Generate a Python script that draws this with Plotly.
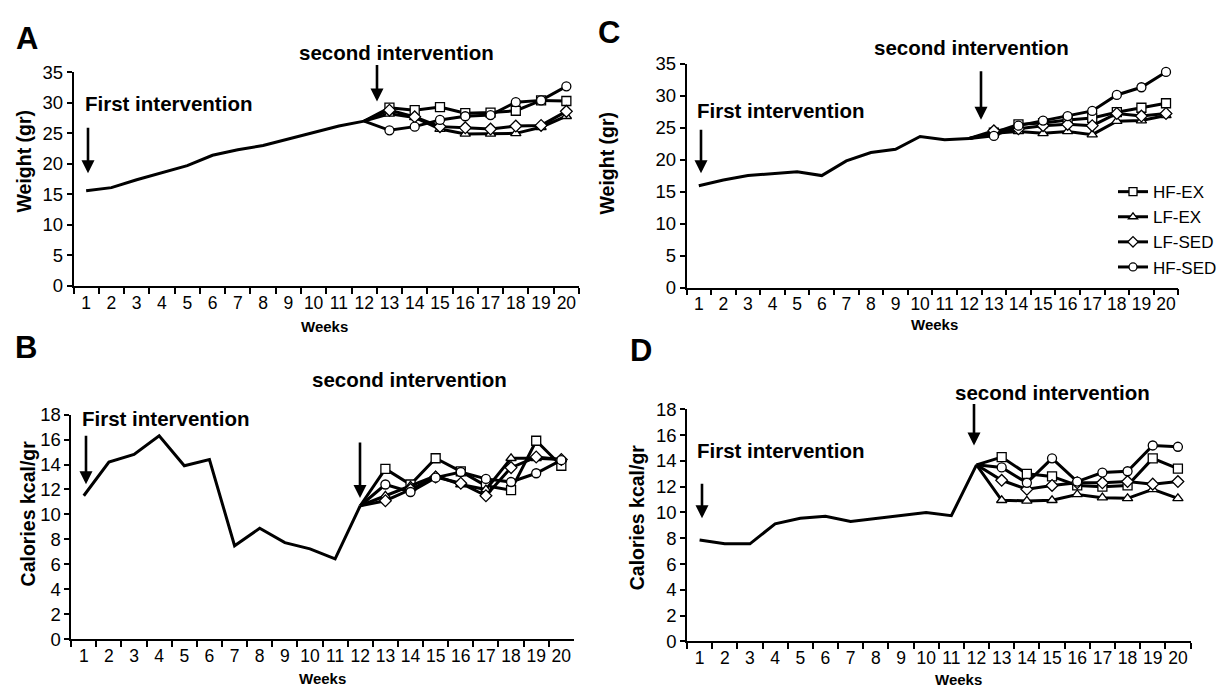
import plotly.graph_objects as go

# window is 1225x695; the page body has an 8px margin, so the figure starts at (8, 8)
WIN_W, WIN_H = 1225, 695
OFF = 8
W, H = WIN_W - OFF, WIN_H - OFF

weeks = [str(i) for i in range(1, 21)]
groups = ["HF-EX", "LF-EX", "LF-SED", "HF-SED"]
symbols = ["square", "triangle-up", "diamond", "circle"]

# Panel A: weight (gr)
a_base = [15.6, 16.1, 17.4, 18.5, 19.7, 21.4, 22.3, 23.0, 24.1, 25.1, 26.2, 27.0]
a_hf_ex = [29.2, 28.8, 29.3, 28.3, 28.4, 28.7, 30.4, 30.3]
a_lf_ex = [28.2, 27.6, 25.7, 24.9, 24.9, 25.0, 26.0, 27.8]
a_lf_sed = [28.8, 27.7, 26.1, 25.9, 25.7, 26.2, 26.3, 28.6]
a_hf_sed = [25.5, 26.1, 27.2, 27.8, 28.0, 30.1, 30.4, 32.7]

# Panel B: calories kcal/gr
b_base = [11.5, 14.2, 14.8, 16.3, 13.9, 14.4, 7.5, 8.9, 7.75, 7.25, 6.45, 10.7]
b_hf_ex = [13.65, 12.4, 14.5, 13.45, 12.3, 11.95, 15.9, 13.9]
b_lf_ex = [11.5, 12.3, 13.1, 12.4, 12.0, 14.5, 14.5, 14.4]
b_lf_sed = [11.1, 12.0, 13.0, 12.5, 11.5, 13.75, 14.6, 14.4]
b_hf_sed = [12.4, 11.8, 12.95, 13.4, 12.85, 12.6, 13.3, 14.35]

# Panel C: weight (gr)
c_base = [15.9, 16.8, 17.5, 17.8, 18.1, 17.5, 19.8, 21.1, 21.6, 23.6, 23.1, 23.3]
c_hf_ex = [24.2, 25.5, 25.7, 26.2, 26.5, 27.4, 28.1, 28.8]
c_lf_ex = [24.1, 24.4, 24.1, 24.4, 23.9, 26.0, 26.1, 26.9]
c_lf_sed = [24.5, 24.8, 25.3, 25.5, 25.3, 27.2, 26.8, 27.2]
c_hf_sed = [23.7, 25.3, 26.1, 26.8, 27.6, 30.1, 31.3, 33.7]

# Panel D: calories kcal/gr
d_base = [7.87, 7.57, 7.57, 9.12, 9.55, 9.7, 9.3, 9.55, 9.75, 10.0, 9.75, 13.7]
d_hf_ex = [14.3, 13.0, 12.8, 12.1, 12.0, 12.1, 14.2, 13.4]
d_lf_ex = [10.95, 10.9, 10.95, 11.4, 11.15, 11.1, 11.8, 11.1]
d_lf_sed = [12.5, 11.8, 12.1, 12.3, 12.3, 12.4, 12.2, 12.4]
d_hf_sed = [13.5, 12.3, 14.2, 12.4, 13.1, 13.2, 15.2, 15.1]

weight_ticks = [0, 5, 10, 15, 20, 25, 30, 35]
cal_ticks = [0, 2, 4, 6, 8, 10, 12, 14, 16, 18]

FONT = "Liberation Sans, Arial, sans-serif"


def px(x):
    return (x - OFF) / W


def py(y):
    return 1 - (y - OFF) / H


panels = [
    dict(ax="", base=a_base, g=[a_hf_ex, a_lf_ex, a_lf_sed, a_hf_sed],
         xd=(73.5, 579.0), yd=(283.3, 63), ticks=weight_ticks, leg=False),
    dict(ax="2", base=b_base, g=[b_hf_ex, b_lf_ex, b_lf_sed, b_hf_sed],
         xd=(71.2, 573.9), yd=(648, 416), ticks=cal_ticks, leg=False),
    dict(ax="3", base=c_base, g=[c_hf_ex, c_lf_ex, c_lf_sed, c_hf_sed],
         xd=(686.5, 1178.3), yd=(285, 54), ticks=weight_ticks, leg=True),
    dict(ax="4", base=d_base, g=[d_hf_ex, d_lf_ex, d_lf_sed, d_hf_sed],
         xd=(687.0, 1190.5), yd=(650, 410.7), ticks=cal_ticks, leg=False),
]

fig = go.Figure()
layout_axes = {}

for p in panels:
    xa = "x" + p["ax"]
    ya = "y" + p["ax"]
    fig.add_trace(go.Scatter(
        x=weeks[:12], y=p["base"], xaxis=xa, yaxis=ya, mode="lines",
        line=dict(color="black", width=3), showlegend=False, hoverinfo="skip"))
    for name, sym, vals in zip(groups, symbols, p["g"]):
        fig.add_trace(go.Scatter(
            x=weeks[11:], y=[p["base"][-1]] + vals, xaxis=xa, yaxis=ya,
            mode="lines+markers", name=name,
            line=dict(color="black", width=3),
            marker=dict(symbol=sym, size=[0] + [9] * len(vals), color="#ffffff",
                        opacity=1, line=dict(color="black", width=1.3)),
            showlegend=p["leg"]))
    layout_axes["xaxis" + p["ax"]] = dict(
        domain=[px(p["xd"][0]), px(p["xd"][1])], anchor=ya,
        type="category", categoryorder="array", categoryarray=weeks,
        range=[-0.5, 19.5], tickson="boundaries", ticks="outside", ticklen=6,
        tickwidth=1.5, tickcolor="black", showline=True, linecolor="black",
        linewidth=1.5, showgrid=False, zeroline=False, tickangle=0,
        tickfont=dict(family=FONT, size=17.5, color="black"))
    layout_axes["yaxis" + p["ax"]] = dict(
        domain=[py(p["yd"][0]), py(p["yd"][1])], anchor=xa,
        range=[0, p["ticks"][-1]], tickvals=p["ticks"], ticks="outside", ticklen=5,
        tickwidth=1.5, tickcolor="black", showline=True, linecolor="black",
        linewidth=1.5, showgrid=False, zeroline=False,
        tickfont=dict(family=FONT, size=18.5, color="black"))

ann = []


def text(x, y, s, size, angle=0):
    ann.append(dict(xref="paper", yref="paper", x=px(x), y=py(y), text="<b>%s</b>" % s,
                    showarrow=False, xanchor="center", yanchor="middle", textangle=angle,
                    font=dict(family=FONT, size=size, color="black")))


def arrow(x, y0, y1):
    ann.append(dict(xref="paper", yref="paper", x=px(x), y=py(y1), ax=0, ay=-(y1 - y0),
                    axref="pixel", ayref="pixel", text="", showarrow=True,
                    arrowhead=2, arrowsize=1, arrowwidth=2.6, arrowcolor="black"))


# panel letters
text(27, 28, "A", 31)
text(26, 347, "B", 31)
text(609, 22, "C", 31)
text(641, 350, "D", 31)

# interventions
for (sx, sy), (fx, fy) in [((396, 43), (168, 95)), ((409, 380), (165, 420)),
                           ((971, 37), (780, 102)), ((1052, 393), (780, 453))]:
    text(sx, sy, "second intervention", 20.5)
    text(fx, fy, "First intervention", 20.5)

arrow(88, 120, 167)
arrow(377, 55, 93)
arrow(86, 438, 488)
arrow(360, 445, 502)
arrow(701, 122, 167)
arrow(981, 62, 112)
arrow(702, 487, 523)
arrow(974, 405, 448)

# axis titles
text(24, 155, "Weight (gr)", 19.5, -90)
text(28, 518, "Calories kcal/gr", 19.5, -90)
text(607, 157, "Weight (gr)", 19.5, -90)
text(637, 522, "Calories kcal/gr", 19.5, -90)
text(324, 325, "Weeks", 15)
text(322, 688, "Weeks", 15)
text(934, 323, "Weeks", 15)
text(958, 689, "Weeks", 15)

fig.update_layout(
    width=W, height=H, autosize=False,
    margin=dict(l=0, r=0, t=0, b=0),
    paper_bgcolor="white", plot_bgcolor="white",
    annotations=ann,
    showlegend=True,
    legend=dict(x=px(1113), y=py(168), xanchor="left", yanchor="top",
                bgcolor="rgba(0,0,0,0)", borderwidth=0, itemwidth=30,
                font=dict(family=FONT, size=17, color="black"),
                tracegroupgap=0),
    **layout_axes)

fig.write_html("out.html")
